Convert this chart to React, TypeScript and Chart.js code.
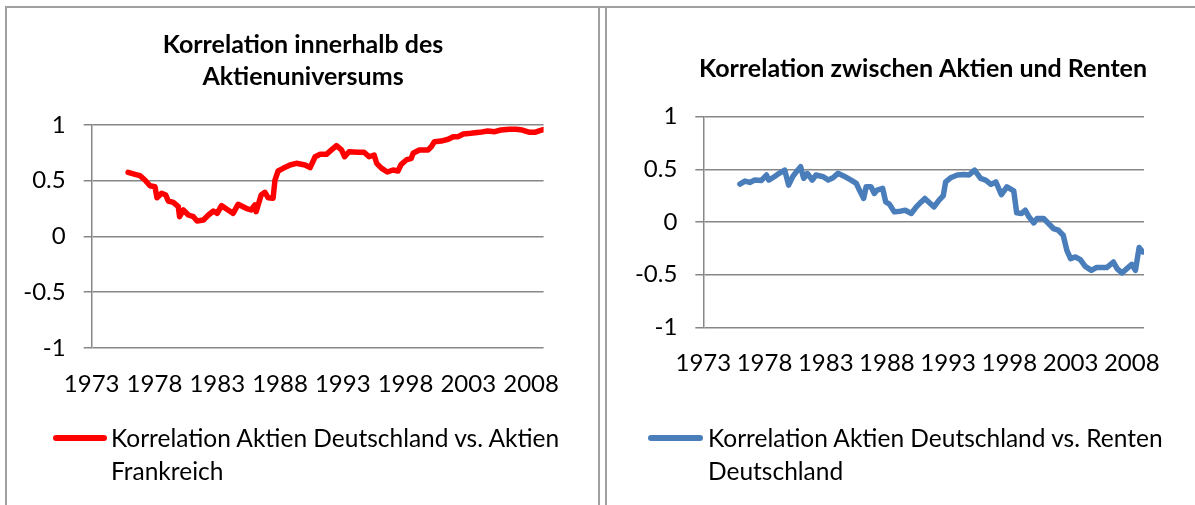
import React, { useEffect, useRef } from 'react';
import { Chart, registerables } from 'chart.js';

Chart.register(...registerables);

// ---------- data ----------
const xTickYears = [1973, 1978, 1983, 1988, 1993, 1998, 2003, 2008];

const leftTitle = ['Korrelation innerhalb des', 'Aktienuniversums'];
const rightTitle = ['Korrelation zwischen Aktien und Renten'];
const leftLegend = ['Korrelation Aktien Deutschland vs. Aktien', 'Frankreich'];
const rightLegend = ['Korrelation Aktien Deutschland vs. Renten', 'Deutschland'];

const aktienYears = [
  1975.9, 1976.45, 1976.84, 1977.24, 1977.64, 1978.04, 1978.2, 1978.57, 1978.9, 1979.1,
  1979.5, 1979.9, 1980.0, 1980.3, 1980.7, 1981.1, 1981.4, 1981.9, 1982.3, 1982.7,
  1983.0, 1983.34, 1983.74, 1984.27, 1984.66, 1985.3, 1985.7, 1986.0, 1986.1, 1986.5,
  1986.8, 1987.05, 1987.45, 1987.6, 1987.85, 1988.25, 1988.8, 1989.3, 1990.0, 1990.4,
  1990.8, 1991.2, 1991.7, 1992.1, 1992.5, 1992.9, 1993.15, 1993.5, 1994.2, 1994.7,
  1995.1, 1995.5, 1995.7, 1996.1, 1996.55, 1997.0, 1997.4, 1997.66, 1998.06, 1998.46,
  1998.6, 1999.1, 1999.8, 2000.05, 2000.3, 2000.84, 2001.4, 2001.8, 2002.2, 2002.6,
  2003.2, 2003.9, 2004.55, 2005.1, 2005.6, 2006.3, 2006.8, 2007.3, 2007.9, 2008.3,
  2008.7, 2008.97,
];
const aktienValues = [
  0.575, 0.557, 0.545, 0.506, 0.455, 0.446, 0.347, 0.387, 0.372, 0.318,
  0.306, 0.267, 0.177, 0.237, 0.192, 0.177, 0.138, 0.147, 0.192, 0.228,
  0.207, 0.276, 0.246, 0.207, 0.288, 0.252, 0.237, 0.282, 0.222, 0.372,
  0.396, 0.347, 0.342, 0.506, 0.587, 0.611, 0.641, 0.656, 0.641, 0.617,
  0.715, 0.737, 0.737, 0.776, 0.814, 0.776, 0.715, 0.76, 0.755, 0.755,
  0.715, 0.731, 0.656, 0.611, 0.578, 0.596, 0.587, 0.647, 0.686, 0.701,
  0.746, 0.776, 0.776, 0.805, 0.85, 0.856, 0.872, 0.895, 0.895, 0.919,
  0.925, 0.934, 0.946, 0.94, 0.955, 0.961, 0.961, 0.955, 0.934, 0.934,
  0.949, 0.958,
];

const rentenYears = [
  1975.99, 1976.4, 1976.8, 1977.2, 1977.75, 1978.16, 1978.35, 1978.8, 1979.2, 1979.65,
  1979.97, 1980.3, 1980.6, 1980.95, 1981.2, 1981.5, 1981.9, 1982.2, 1982.8, 1983.2,
  1983.6, 1984.0, 1984.5, 1985.07, 1985.5, 1985.75, 1986.1, 1986.3, 1986.7, 1986.97,
  1987.2, 1987.65, 1987.9, 1988.2, 1988.6, 1989.1, 1989.5, 1990.0, 1990.4, 1990.8,
  1991.1, 1991.45, 1991.85, 1992.26, 1992.6, 1992.8, 1993.2, 1993.75, 1994.3, 1994.7,
  1995.16, 1995.65, 1996.06, 1996.5, 1996.9, 1997.35, 1997.8, 1998.36, 1998.6, 1999.0,
  1999.3, 1999.6, 2000.0, 2000.26, 2000.8, 2001.2, 2001.6, 2002.0, 2002.4, 2002.7,
  2003.0, 2003.4, 2003.8, 2004.2, 2004.7, 2005.1, 2005.5, 2005.95, 2006.5, 2006.8,
  2007.2, 2007.6, 2008.0, 2008.3, 2008.6, 2008.9,
];
const rentenValues = [
  0.36, 0.389, 0.376, 0.398, 0.395, 0.446, 0.398, 0.43, 0.462, 0.493,
  0.35, 0.43, 0.477, 0.525, 0.414, 0.462, 0.398, 0.446, 0.43, 0.398,
  0.42, 0.462, 0.435, 0.398, 0.367, 0.303, 0.224, 0.334, 0.334, 0.271,
  0.303, 0.319, 0.191, 0.17, 0.096, 0.103, 0.112, 0.081, 0.144, 0.191,
  0.224, 0.186, 0.144, 0.208, 0.249, 0.382, 0.42, 0.446, 0.452, 0.446,
  0.493, 0.414, 0.398, 0.357, 0.38, 0.26, 0.334, 0.296, 0.087, 0.081,
  0.112, 0.049, -0.009, 0.033, 0.033, -0.014, -0.062, -0.078, -0.126, -0.269,
  -0.348, -0.332, -0.357, -0.421, -0.459, -0.433, -0.433, -0.433, -0.38, -0.443,
  -0.485, -0.443, -0.402, -0.459, -0.243, -0.285,
];

// ---------- styling ----------
const FONT = 'Lato, "Open Sans", sans-serif';
const GRID = '#878787';
const TICK_SIZE = 24;
const LEGEND_SIZE = 24.5;
const TITLE_SIZE = 25;

type Layout = {
  left: number; width: number; height: number;
  padLeft: number; yWidth: number; rightWidth: number; xHeight: number;
  titleTop: number; titleBottom: number; xPad: number;
};

function makeConfig(years: number[], values: number[], color: string, label: string,
  title: string[], L: Layout): any {
  return {
    type: 'line',
    data: {
      datasets: [{
        label,
        data: years.map((x, i) => ({ x, y: values[i] })),
        borderColor: color,
        backgroundColor: color,
        borderWidth: 5.5,
        pointRadius: 0,
        tension: 0,
        borderJoinStyle: 'round',
        borderCapStyle: 'round',
        fill: false,
      }],
    },
    options: {
      responsive: false,
      animation: false,
      layout: { padding: { left: L.padLeft, right: 0, top: 0, bottom: 0 } },
      plugins: {
        legend: { display: false },
        tooltip: { enabled: false },
        title: {
          display: true,
          text: title,
          color: '#000',
          font: { family: FONT, size: TITLE_SIZE, weight: 'bold', lineHeight: '32px' },
          padding: { top: L.titleTop, bottom: L.titleBottom },
        },
      },
      scales: {
        x: {
          type: 'linear',
          min: 1973,
          max: 2009,
          grid: { display: false },
          border: { display: false },
          afterBuildTicks: (s: any) => { s.ticks = xTickYears.map((v) => ({ value: v })); },
          afterFit: (s: any) => { s.height = L.xHeight; },
          ticks: {
            color: '#000',
            font: { family: FONT, size: TICK_SIZE },
            padding: L.xPad,
            maxRotation: 0,
            autoSkip: false,
            callback: (v: any) => String(v),
          },
        },
        y: {
          type: 'linear',
          min: -1,
          max: 1,
          afterFit: (s: any) => { s.width = L.yWidth; },
          grid: { color: GRID, lineWidth: 1.5, tickLength: 8, drawTicks: true },
          border: { display: true, color: GRID, width: 1.5 },
          ticks: {
            stepSize: 0.5,
            color: '#000',
            font: { family: FONT, size: TICK_SIZE },
            padding: 18,
            callback: (v: any) => String(v),
          },
        },
        spacer: {
          type: 'linear',
          position: 'right',
          display: true,
          grid: { display: false },
          border: { display: false },
          ticks: { display: false },
          afterFit: (s: any) => { s.width = L.rightWidth; },
        },
      },
    },
  };
}

const leftLayout: Layout = {
  left: 0, width: 598, height: 505,
  padLeft: 8, yWidth: 83.7, rightWidth: 54.4, xHeight: 157.2,
  titleTop: 29, titleBottom: 32, xPad: 14,
};
const rightLayout: Layout = {
  left: 600, width: 646, height: 505,
  padLeft: 0, yWidth: 103.3, rightWidth: 102, xHeight: 177.7,
  titleTop: 53, titleBottom: 31.7, xPad: 13.5,
};

function ChartCanvas(props: { cfg: any; L: Layout }) {
  const ref = useRef<HTMLCanvasElement | null>(null);
  useEffect(() => {
    if (!ref.current) return;
    const chart = new Chart(ref.current, props.cfg);
    return () => chart.destroy();
  }, []);
  return (
    <canvas
      ref={ref}
      width={props.L.width}
      height={props.L.height}
      style={{ position: 'absolute', left: props.L.left, top: 0, width: props.L.width, height: props.L.height, display: 'block' }}
    />
  );
}

function Legend(props: { color: string; lines: string[]; lineLeft: number; lineWidth: number; textLeft: number; y: number }) {
  return (
    <>
      <div style={{
        position: 'absolute', left: props.lineLeft, top: props.y - 3, width: props.lineWidth, height: 6,
        background: props.color, borderRadius: 3,
      }} />
      <div style={{
        position: 'absolute', left: props.textLeft, top: props.y - 17, fontFamily: FONT, fontSize: LEGEND_SIZE,
        lineHeight: '33px', color: '#000', whiteSpace: 'nowrap',
      }}>
        {props.lines.map((t, i) => <div key={i}>{t}</div>)}
      </div>
    </>
  );
}

export default function App() {
  useEffect(() => {
    document.body.style.margin = '0';
  }, []);
  const leftCfg = makeConfig(aktienYears, aktienValues, '#FF0000', leftLegend.join(' '), leftTitle, leftLayout);
  const rightCfg = makeConfig(rentenYears, rentenValues, '#4A7EBB', rightLegend.join(' '), rightTitle, rightLayout);
  const border = '#a0a0a0';
  return (
    <div style={{ position: 'relative', width: 1195, height: 505, overflow: 'hidden', background: '#fff' }}>
      <div style={{ position: 'absolute', left: 5, top: 6, width: 1190, height: 2, background: border }} />
      <div style={{ position: 'absolute', left: 5, top: 6, width: 2, height: 499, background: border }} />
      <div style={{ position: 'absolute', left: 598, top: 6, width: 2, height: 499, background: border }} />
      <div style={{ position: 'absolute', left: 605, top: 6, width: 2, height: 499, background: border }} />
      <ChartCanvas cfg={leftCfg} L={leftLayout} />
      <ChartCanvas cfg={rightCfg} L={rightLayout} />
      <Legend color="#FF0000" lines={leftLegend} lineLeft={53} lineWidth={54} textLeft={111} y={438} />
      <Legend color="#4A7EBB" lines={rightLegend} lineLeft={648} lineWidth={55} textLeft={708} y={438} />
    </div>
  );
}
